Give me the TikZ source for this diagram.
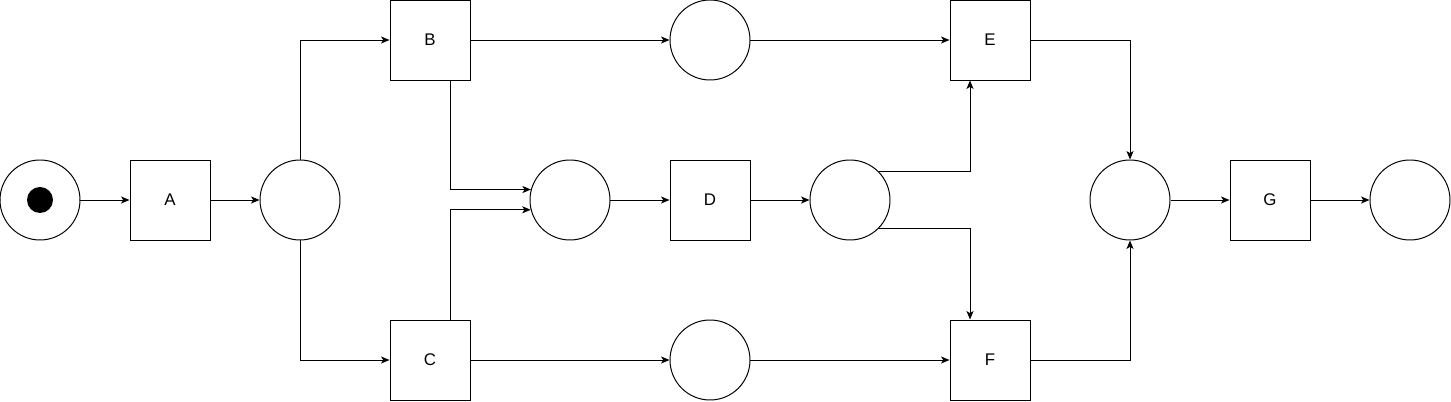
\documentclass[tikz,border=0pt]{standalone}
\usepackage{fontspec}
\setmainfont{Liberation Sans}
\usepackage{tikz}
\usetikzlibrary{arrows.meta}
\tikzset{
	place/.style={circle,draw,line width=0.7pt,minimum size=2cm,inner sep=0pt},
	trans/.style={rectangle,draw,line width=0.7pt,minimum size=2cm,inner sep=0pt,font=\fontsize{12}{14}\selectfont},
	token/.style={circle,fill,inner sep=0pt,minimum size=0.65cm},
	arc/.style={line width=0.7pt,-{Stealth[length=6pt,width=5pt,inset=1.5pt]}}
}
\begin{document}
\begin{tikzpicture}
						\useasboundingbox (0,0) rectangle (36.275,10.05);
						\node [place] (start) at (1,5.05) {};
						\node [token] (tok) at (start) {};
						\node [trans] (A) at (4.25,5.05) {A};
						\node [place] (p1) at (7.5,5.05) {};
						\node [trans] (B) at (10.75,9.05) {B};
						\node [trans] (C) at (10.75,1.05) {C};
						\node [place] (p2) at (14.25,5.05) {};
						\node [trans] (D) at (17.75,5.05) {D};
						\node [place] (pb) at (17.75,9.05) {};
						\node [place] (pc) at (17.75,1.05) {};
						\node [place] (p3) at (21.25,5.05) {};
						\node [trans] (E) at (24.75,9.05) {E};
						\node [trans] (F) at (24.75,1.05) {F};
						\node [place] (p4) at (28.25,5.05) {};
						\node [trans] (G) at (31.75,5.05) {G};
						\node [place] (final) at (35.25,5.05) {};

						\draw [arc] (start) -- (A);
						\draw [arc] (A) -- (p1);
						\draw [arc] (p1.north) |- (B.west);
						\draw [arc] (p1.south) |- (C.west);

						\draw [arc] (B) -- (pb);
						\draw [arc] (pb) -- (E);
						\draw [arc] (C) -- (pc);
						\draw [arc] (pc) -- (F);
						\draw [arc] ([xshift=0.5cm]B.south) |- (p2.165.5);
						\draw [arc] ([xshift=0.5cm]C.north) |- (p2.194.5);
						\draw [arc] (p2) -- (D);
						\draw [arc] (D) -- (p3);

						\draw [arc] (p3.44.4) -| ([xshift=-0.5cm]E.south);
						\draw [arc] (p3.-44.4) -| ([xshift=-0.5cm]F.north);
						\draw [arc] (E.east) -| (p4.north);
						\draw [arc] (F.east) -| (p4.south);
						\draw [arc] (p4) -- (G);
						\draw [arc] (G) -- (final);
					\end{tikzpicture}
\end{document}
